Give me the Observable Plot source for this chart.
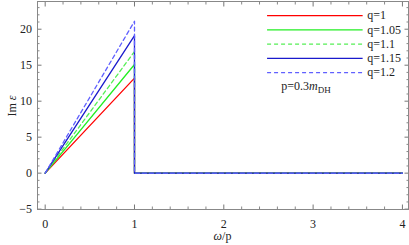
<!DOCTYPE html>
<html><head><meta charset="utf-8">
<script src="https://cdn.jsdelivr.net/npm/d3@7"></script>
<script src="https://cdn.jsdelivr.net/npm/@observablehq/plot@0.6"></script>
<style>
body{margin:0;background:#fff}
#chart svg{font-family:"Liberation Serif","DejaVu Serif",serif;overflow:visible}
</style>
</head><body><div id="chart"></div>
<script>
// Data
const qLabels = ["q=1", "q=1.05", "q=1.1", "q=1.15", "q=1.2"];
const peakValues = [13.2, 15.1, 16.9, 19.1, 21.1];   // Im ε at ω/p = 1 (just before the drop)
const omegaPoints = [0, 1, 1, 4];
const xTicks = [0, 1, 2, 3, 4];
const yTicks = [-5, 0, 5, 10, 15, 20];
const seriesColors = ["#ff0000", "#22ee22", "#55ee55", "#1a1acc", "#6060ff"];
const seriesDash = [null, null, "4,3", null, "4,3"];

const series = qLabels.map((label, i) => ({
  label,
  color: seriesColors[i],
  dash: seriesDash[i],
  rows: omegaPoints.map((x, j) => ({x, y: j === 1 ? peakValues[i] : 0}))
}));

const xMinor = d3.range(0, 4.001, 0.2).map(v => +v.toFixed(2)).filter(v => !xTicks.includes(v));
const yMinor = d3.range(-5, 24, 1).filter(v => !yTicks.includes(v));

const legendX = [2.49, 3.56];
const legendRows = series.map((s, i) => ({...s, y: 21.9 - 1.98 * i}));

const chart = Plot.plot({
  width: 409,
  height: 245,
  marginLeft: 37,
  marginRight: 1,
  marginTop: 1,
  marginBottom: 36,
  style: {fontSize: "12px", fontFamily: "Liberation Serif, serif", color: "#222", background: "#fff"},
  x: {domain: [-0.086, 4.068]},
  y: {domain: [-5.05, 23.85]},
  marks: [
    Plot.axisX(xTicks, {anchor: "bottom", tickSize: -4.5, tickPadding: 14, stroke: "#777", fill: "#222", fontSize: 12, label: null}),
    Plot.axisX(xMinor, {anchor: "bottom", tickSize: -2.5, text: null, stroke: "#888", label: null}),
    Plot.axisX(xTicks, {anchor: "top", tickSize: -4.5, text: null, stroke: "#777", label: null}),
    Plot.axisX(xMinor, {anchor: "top", tickSize: -2.5, text: null, stroke: "#888", label: null}),
    Plot.axisY(yTicks, {anchor: "left", tickSize: -4.5, tickPadding: 10, stroke: "#777", fill: "#222", fontSize: 12, label: null, tickFormat: d => d < 0 ? "\u2212" + Math.abs(d) : String(d)}),
    Plot.axisY(yMinor, {anchor: "left", tickSize: -2.5, text: null, stroke: "#888", label: null}),
    Plot.axisY(yTicks, {anchor: "right", tickSize: -4.5, text: null, stroke: "#777", label: null}),
    Plot.axisY(yMinor, {anchor: "right", tickSize: -2.5, text: null, stroke: "#888", label: null}),
    Plot.frame({stroke: "#888"}),
    ...series.map(s => Plot.line(s.rows, {x: "x", y: "y", stroke: s.color, strokeWidth: 1.3, strokeDasharray: s.dash})),
    // legend
    ...legendRows.map(s => Plot.ruleY([s.y], {x1: legendX[0], x2: legendX[1], stroke: s.color, strokeWidth: 1.3, strokeDasharray: s.dash})),
    Plot.text(legendRows, {x: legendX[1], y: "y", text: "label", textAnchor: "start", dx: 4, fontSize: 12, fill: "#222"}),
    Plot.text(["p=0.3m_DH"], {x: 2.92, y: legendRows[4].y - 1.85, text: d => d, textAnchor: "middle", fontSize: 12, fill: "#222"})
  ]
});

const svg = d3.select(chart);
svg.selectAll("text").filter(function() { return this.textContent === "p=0.3m_DH"; }).each(function() {
  const t = d3.select(this);
  t.text(null);
  t.append("tspan").text("p=0.3");
  t.append("tspan").attr("font-style", "italic").text("m");
  t.append("tspan").attr("font-size", 9).attr("dy", 3).text("DH");
});
const xl = svg.append("text").attr("x", (37 + 408) / 2).attr("y", 240).attr("text-anchor", "middle")
  .attr("font-size", 12).attr("fill", "#222");
xl.append("tspan").attr("font-style", "italic").text("\u03c9");
xl.append("tspan").text("/p");
const yl = svg.append("text").attr("transform", "translate(16,106) rotate(-90)").attr("text-anchor", "middle")
  .attr("font-size", 12).attr("fill", "#222");
yl.append("tspan").text("Im ");
yl.append("tspan").attr("font-style", "italic").text("\u03b5");

document.getElementById("chart").appendChild(chart);
</script>
</body></html>
